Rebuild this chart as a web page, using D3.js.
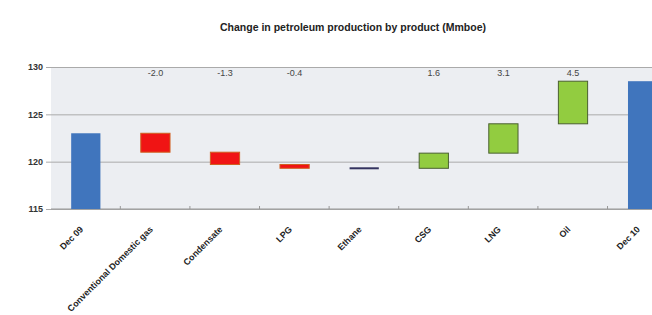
<!DOCTYPE html>
<html>
<head>
<meta charset="utf-8">
<style>
  body { margin: 0; background: #fff; }
  svg { display: block; font-family: "Liberation Sans", Arial, sans-serif; }
</style>
<title>Change in petroleum production</title>
</head>
<body>
<script src="https://cdnjs.cloudflare.com/ajax/libs/d3/7.8.5/d3.min.js"></script>
<script>

// data
var categories = ["Dec 09", "Conventional Domestic gas", "Condensate", "LPG", "Ethane", "CSG", "LNG", "Oil", "Dec 10"];
var startValue = 123.0;
var deltas = [-2.0, -1.3, -0.4, 0.0, 1.6, 3.1, 4.5];
var yTicks = [115, 120, 125, 130];

var width = 652, height = 315;
var margin = {top: 67, left: 51, bottom: 106};

var svg = d3.select("body").append("svg")
    .attr("width", width)
    .attr("height", height);

// build the steps of the waterfall
var steps = [];
var level = startValue;
steps.push({name: categories[0], lo: 115, hi: startValue, kind: "total"});
deltas.forEach(function(d, i) {
  var next = level + d;
  steps.push({name: categories[i + 1], lo: Math.min(level, next), hi: Math.max(level, next), delta: d,
              kind: d > 0 ? "up" : (d < 0 ? "down" : "flat")});
  level = next;
});
steps.push({name: categories[8], lo: 115, hi: level, kind: "total"});

var x = d3.scaleBand()
    .domain(categories)
    .range([margin.left, margin.left + 9 * 69.6])
    .paddingInner(0.58)
    .paddingOuter(0.29);

var y = d3.scaleLinear()
    .domain([115, 130])
    .range([height - margin.bottom, margin.top]);

// plot background
svg.append("rect")
    .attr("x", margin.left)
    .attr("y", y(130))
    .attr("width", width - margin.left)
    .attr("height", y(115) - y(130))
    .attr("fill", "#eceef2");

// gridlines + y axis
var yAxis = d3.axisLeft(y).tickValues(yTicks).tickSize(-(width - margin.left)).tickPadding(8);
var gy = svg.append("g")
    .attr("transform", "translate(" + margin.left + ",0)")
    .call(yAxis);
gy.select(".domain").remove();
gy.selectAll("line").attr("stroke", "#aaaaaa").attr("x1", -5);
gy.selectAll("text")
    .attr("fill", "#333")
    .style("font-size", "9px")
    .style("font-weight", "bold");

// x axis
var gx = svg.append("g")
    .attr("transform", "translate(0," + y(115) + ")");
gx.append("line")
    .attr("x1", margin.left).attr("x2", width)
    .attr("stroke", "#999");
gx.selectAll(".tick")
    .data(categories.slice(1))
    .enter().append("line")
    .attr("x1", d => x(d) - x.bandwidth() * 0.7)
    .attr("x2", d => x(d) - x.bandwidth() * 0.7)
    .attr("y1", 0).attr("y2", -3)
    .attr("stroke", "#999");

var fills = {total: "#4075bd", up: "#92cc40", down: "#f01414", flat: "#33335f"};
var strokes = {total: "#3a6aa8", up: "#4a6030", down: "#d06020", flat: "#33335f"};

svg.selectAll(".bar")
    .data(steps)
    .enter().append("rect")
    .attr("class", "bar")
    .attr("x", d => x(d.name))
    .attr("width", x.bandwidth())
    .attr("y", d => d.kind == "flat" ? y(d.hi) - 1 : y(d.hi))
    .attr("height", d => d.kind == "flat" ? 2 : y(d.lo) - y(d.hi))
    .attr("fill", d => fills[d.kind])
    .attr("stroke", d => d.kind == "total" || d.kind == "flat" ? "none" : strokes[d.kind])
    .attr("stroke-width", 1);

// delta labels above the plot
svg.selectAll(".lbl")
    .data(steps.filter(d => d.delta !== undefined && d.delta !== 0))
    .enter().append("text")
    .attr("class", "lbl")
    .attr("x", d => x(d.name) + x.bandwidth() / 2)
    .attr("y", y(129.1))
    .attr("text-anchor", "middle")
    .attr("fill", "#444")
    .style("font-size", "9px")
    .text(d => d3.format(".1f")(d.delta).replace("−", "-"));

// rotated category labels
svg.selectAll(".cat")
    .data(categories)
    .enter().append("text")
    .attr("class", "cat")
    .attr("text-anchor", "end")
    .attr("transform", d => "translate(" + (x(d) + x.bandwidth() / 2 - 2) + "," + (y(115) + 21) + ") rotate(-45)")
    .attr("fill", "#222")
    .style("font-size", "8.9px")
    .style("font-weight", "bold")
    .text(d => d);

// title
svg.append("text")
    .attr("x", 353)
    .attr("y", 31)
    .attr("text-anchor", "middle")
    .attr("fill", "#222")
    .style("font-size", "10.5px")
    .style("font-weight", "bold")
    .text("Change in petroleum production by product (Mmboe)");

</script>
</body>
</html>
